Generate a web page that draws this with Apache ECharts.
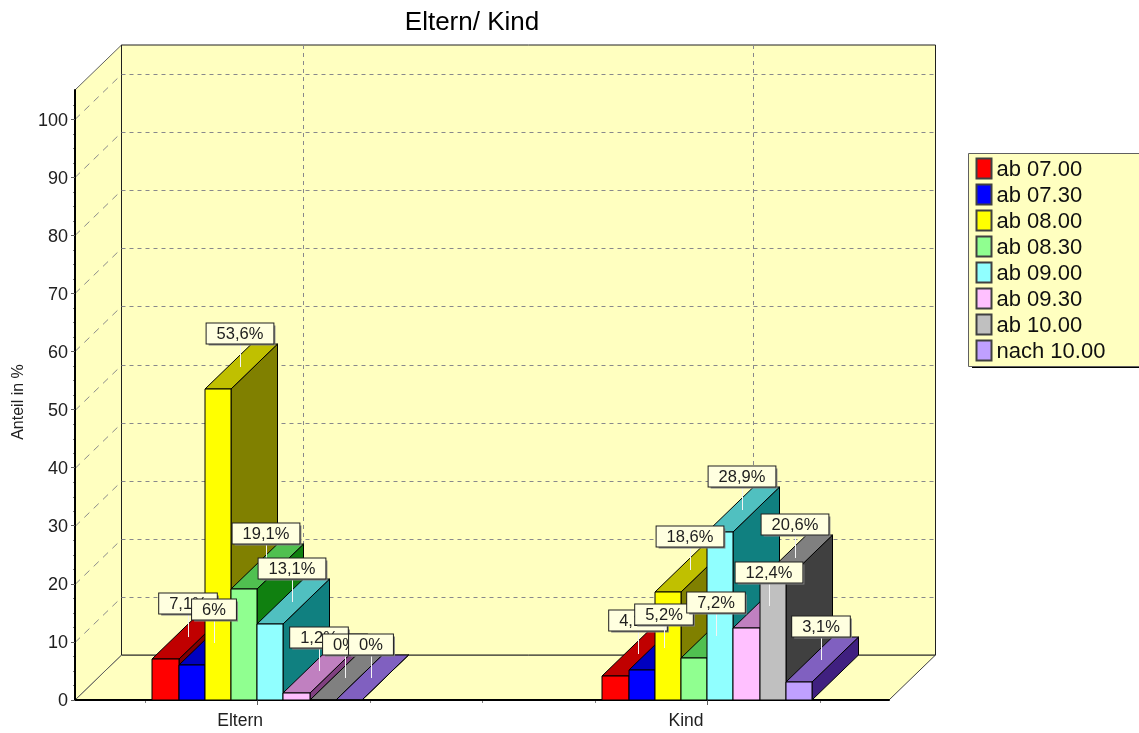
<!DOCTYPE html>
<html>

<head>
    <meta charset="utf-8">
    <script src="https://cdn.jsdelivr.net/npm/echarts@6/dist/echarts.min.js"></script>
    <style>
        html, body { margin: 0; padding: 0; background: #fff; }
    </style>
</head>

<body>
    <div id="container" style="width:1139px;height:733px;"></div>
    <script type="text/javascript">
        // data
        var categories = ['Eltern', 'Kind'];
        var seriesNames = ['ab 07.00', 'ab 07.30', 'ab 08.00', 'ab 08.30', 'ab 09.00', 'ab 09.30', 'ab 10.00', 'nach 10.00'];
        var elternValues = [7.1, 6, 53.6, 19.1, 13.1, 1.2, 0, 0];
        var kindValues = [4.1, 5.2, 18.6, 7.2, 28.9, 12.4, 20.6, 3.1];
        var yTicks = [0, 10, 20, 30, 40, 50, 60, 70, 80, 90, 100];
        var yMinorTicks = [2.5, 5, 7.5, 12.5, 15, 17.5, 22.5, 25, 27.5, 32.5, 35, 37.5, 42.5, 45, 47.5, 52.5, 55, 57.5, 62.5, 65, 67.5, 72.5, 75, 77.5, 82.5, 85, 87.5, 92.5, 95, 97.5, 102.5];
        var xMinorTicks = [-0.25, 0.25, 0.5, 0.75, 1.25];

        // face colours of the 3d bars
        var frontColors = ['#ff0000', '#0000ff', '#ffff00', '#90ff90', '#90ffff', '#ffc0ff', '#c0c0c0', '#c0a0ff'];
        var topColors = ['#c00000', '#0000c0', '#c0c000', '#50c050', '#50c0c0', '#c080c0', '#808080', '#8060c0'];
        var sideColors = ['#800000', '#000080', '#808000', '#108010', '#108080', '#804080', '#404040', '#402080'];

        var font = '"Liberation Sans", Arial, sans-serif';
        var wallColor = '#ffffc0';
        var depthX = 46.5;
        var depthY = 45;
        var barSlot = 0.0582; // one bar width in x axis units
        var xMin = -0.405, xMax = 1.404, yMax = 105;

        function valueAt(cat, s) {
            return cat === 0 ? elternValues[s] : kindValues[s];
        }

        function pts(list) {
            return { points: list };
        }

        // walls, floor, dashed grid and small ticks
        function renderWalls(params, api) {
            var bl = api.coord([xMin, 0]);
            var br = api.coord([xMax, 0]);
            var tl = api.coord([xMin, yMax]);
            var x0 = bl[0], x1 = br[0], y0 = bl[1], y1 = tl[1];
            var dx = depthX, dy = depthY;
            var children = [
                { type: 'polygon', shape: pts([[x0, y0], [x0 + dx, y0 - dy], [x1 + dx, y0 - dy], [x1, y0]]), style: { fill: wallColor, stroke: '#404040', lineWidth: 1 } },
                { type: 'polygon', shape: pts([[x0, y0], [x0 + dx, y0 - dy], [x0 + dx, y1 - dy], [x0, y1]]), style: { fill: wallColor, stroke: '#606060', lineWidth: 1 } },
                { type: 'rect', shape: { x: x0 + dx, y: y1 - dy, width: x1 - x0, height: y0 - y1 }, style: { fill: wallColor, stroke: '#202020', lineWidth: 1 } }
            ];
            yTicks.forEach(function (t) {
                if (t === 0) return;
                var y = Math.round(api.coord([0, t])[1]) + 0.5;
                children.push({ type: 'line', shape: { x1: x0 + dx, y1: y - dy, x2: x1 + dx, y2: y - dy }, style: { stroke: '#88888c', lineWidth: 1, lineDash: [4, 4] } });
                children.push({ type: 'line', shape: { x1: x0, y1: y, x2: x0 + dx, y2: y - dy }, style: { stroke: '#8a8a8a', lineWidth: 1, lineDash: [7, 6] } });
            });
            categories.forEach(function (c, i) {
                var x = Math.round(api.coord([i, 0])[0]) + dx;
                children.push({ type: 'line', shape: { x1: x, y1: y1 - dy, x2: x, y2: y0 - dy }, style: { stroke: '#88888c', lineWidth: 1, lineDash: [4, 4] } });
            });
            yMinorTicks.forEach(function (t) {
                var y = Math.round(api.coord([0, t])[1]) + 0.5;
                children.push({ type: 'line', shape: { x1: x0 - 2, y1: y, x2: x0, y2: y }, style: { stroke: '#808080', lineWidth: 1 } });
            });
            xMinorTicks.forEach(function (t) {
                var x = Math.round(api.coord([t, 0])[0]) + 0.5;
                children.push({ type: 'line', shape: { x1: x, y1: y0, x2: x, y2: y0 + 3 }, style: { stroke: '#808080', lineWidth: 1 } });
            });
            return { type: 'group', children: children };
        }

        function barRect(api, s, cat, v) {
            var off = (s - 4) * barSlot;
            var a = api.coord([cat + off, v]);
            var b = api.coord([cat + off + barSlot, 0]);
            return { x0: Math.round(a[0]), x1: Math.round(b[0]), top: Math.round(a[1]), base: Math.round(b[1]) };
        }

        function makeBarRender(s) {
            return function (params, api) {
                var r = barRect(api, s, api.value(0), api.value(1));
                return {
                    type: 'group',
                    children: [
                        { type: 'polygon', shape: pts([[r.x1, r.top], [r.x1 + depthX, r.top - depthY], [r.x1 + depthX, r.base - depthY], [r.x1, r.base]]), style: { fill: sideColors[s], stroke: '#000', lineWidth: 1 } },
                        { type: 'polygon', shape: pts([[r.x0, r.top], [r.x0 + depthX, r.top - depthY], [r.x1 + depthX, r.top - depthY], [r.x1, r.top]]), style: { fill: topColors[s], stroke: '#000', lineWidth: 1 } },
                        { type: 'rect', shape: { x: r.x0, y: r.top, width: r.x1 - r.x0, height: r.base - r.top }, style: { fill: frontColors[s], stroke: '#000', lineWidth: 1 } }
                    ]
                };
            };
        }

        // value marks: white leader from the top face up to a small box
        function renderLabel(params, api) {
            var s = api.value(2);
            var v = api.value(1);
            var r = barRect(api, s, api.value(0), v);
            var ax = Math.round((r.x0 + r.x1) / 2 + depthX / 2);
            var ay = Math.round(r.top - depthY / 2);
            var txt = String(v).replace('.', ',') + '%';
            return {
                type: 'group',
                children: [
                    { type: 'line', shape: { x1: ax - 0.5, y1: ay, x2: ax - 0.5, y2: ay - 24 }, style: { stroke: '#f4f4f4', lineWidth: 1 } },
                    {
                        // box shadow
                        type: 'text',
                        style: {
                            x: ax + 1, y: ay - 21.5, text: txt, align: 'center', verticalAlign: 'bottom',
                            font: '16.5px ' + font, fill: 'rgba(0,0,0,0)',
                            backgroundColor: '#808080',
                            padding: [2, 10, 1, 10]
                        }
                    },
                    {
                        type: 'text',
                        style: {
                            x: ax - 1, y: ay - 23.5, text: txt, align: 'center', verticalAlign: 'bottom',
                            font: '16.5px ' + font, fill: '#202020',
                            backgroundColor: '#ffffe0', borderColor: '#202020', borderWidth: 1,
                            padding: [2, 10, 1, 10]
                        }
                    }
                ]
            };
        }

        var series = [{
            type: 'custom',
            name: 'walls',
            z: 0,
            silent: true,
            renderItem: renderWalls,
            data: [[0, 0]]
        }];
        seriesNames.forEach(function (name, s) {
            series.push({
                type: 'custom',
                name: name,
                z: 2 + s,
                silent: true,
                renderItem: makeBarRender(s),
                itemStyle: { color: frontColors[s], borderColor: '#404040', borderWidth: 1 },
                encode: { x: 0, y: 1 },
                data: categories.map(function (c, cat) { return [cat, valueAt(cat, s)]; })
            });
        });
        var labelData = [];
        categories.forEach(function (c, cat) {
            seriesNames.forEach(function (name, s) {
                labelData.push([cat, valueAt(cat, s), s]);
            });
        });
        series.push({
            type: 'custom',
            name: 'labels',
            z: 20,
            silent: true,
            renderItem: renderLabel,
            encode: { x: 0, y: 1 },
            data: labelData
        });

        // the axis names sit a little left of their ticks in the picture
        var xLabelShift = [-0.038, -0.047];

        var dom = document.getElementById('container');
        var myChart = echarts.init(dom);
        var option = {
            animation: false,
            backgroundColor: '#ffffff',
            title: {
                text: 'Eltern/ Kind',
                left: 467,
                top: 5,
                textAlign: 'center',
                textStyle: { color: '#000', fontFamily: font, fontSize: 26, fontWeight: 'normal' }
            },
            grid: { left: 75, right: 250, top: 90, bottom: 33 },
            // hard shadow behind the legend box
            graphic: [{
                type: 'rect',
                z: 1,
                silent: true,
                shape: { x: 972, y: 157, width: 180, height: 211 },
                style: { fill: '#000' }
            }],
            legend: {
                orient: 'vertical',
                left: 968.5,
                top: 153.5,
                padding: [4, 60, 4, 7],
                itemWidth: 15,
                itemHeight: 20,
                itemGap: 3,
                icon: 'rect',
                selectedMode: false,
                data: seriesNames,
                backgroundColor: wallColor,
                borderColor: '#606060',
                borderWidth: 1,
                formatter: '{a|{name}}',
                textStyle: {
                    color: '#101010',
                    fontFamily: font,
                    fontSize: 22,
                    rich: { a: { color: '#101010', fontFamily: font, fontSize: 22, padding: [2, 0, 0, 0] } }
                }
            },
            xAxis: {
                type: 'value',
                min: xMin,
                max: xMax,
                z: 1,
                splitLine: { show: false },
                axisLine: { show: true, onZero: false, lineStyle: { color: '#000', width: 2 } },
                axisTick: { show: true, length: 5, lineStyle: { color: '#606060' }, customValues: [0, 1] },
                axisLabel: {
                    margin: 12,
                    color: '#202020',
                    fontFamily: font,
                    fontSize: 17.5,
                    customValues: categories.map(function (c, i) { return i + xLabelShift[i]; }),
                    formatter: function (value) { return categories[Math.round(value)]; }
                }
            },
            yAxis: {
                type: 'value',
                min: 0,
                max: yMax,
                interval: 10,
                z: 1,
                name: 'Anteil in %',
                nameLocation: 'middle',
                nameGap: 44,
                nameTextStyle: { color: '#202020', fontFamily: font, fontSize: 16, padding: [0, 14, 0, 0] },
                splitLine: { show: false },
                axisLine: { show: true, onZero: false, lineStyle: { color: '#000', width: 2 } },
                axisTick: { show: true, length: 4, lineStyle: { color: '#606060' }, customValues: yTicks },
                axisLabel: {
                    margin: 7,
                    customValues: yTicks,
                    formatter: '{a|{value}}',
                    rich: { a: { color: '#202020', fontFamily: font, fontSize: 18, padding: [3, 0, 0, 0] } }
                }
            },
            series: series
        };
        myChart.setOption(option);
    </script>
</body>

</html>
